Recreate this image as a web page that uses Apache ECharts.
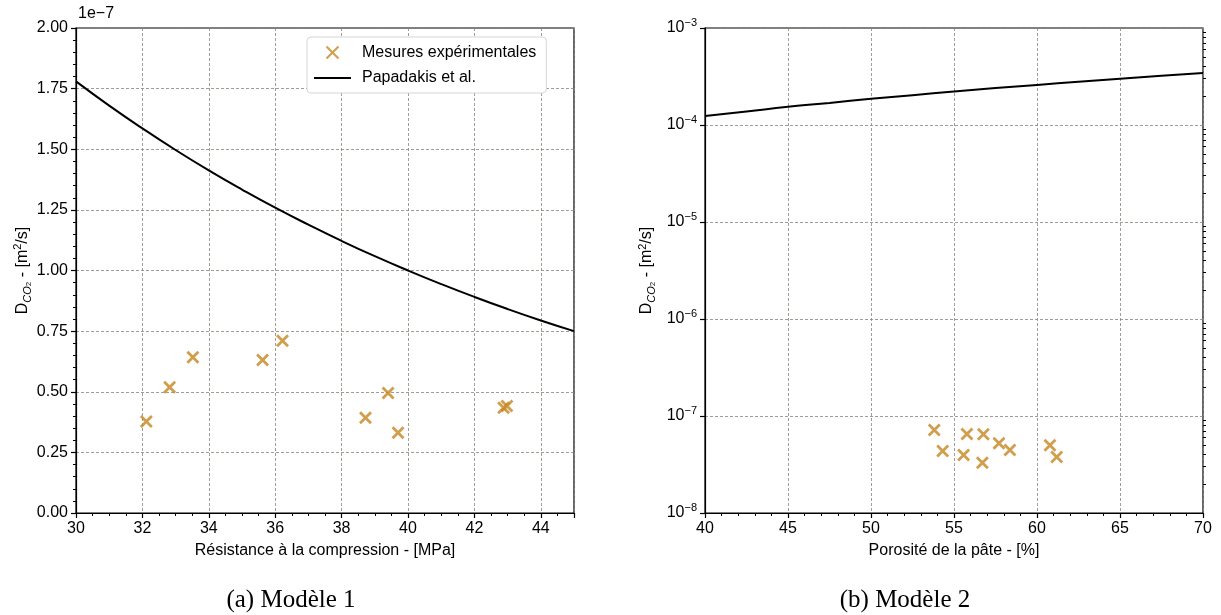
<!DOCTYPE html>
<html><head><meta charset="utf-8">
<script src="https://cdn.jsdelivr.net/npm/echarts@6/dist/echarts.min.js"></script>
<style>html,body{margin:0;padding:0;background:#fff}#c{width:1221px;height:615px}</style>
</head><body><div id="c"></div>
<script>
// ---- Data ----
// Panel (a): compressive strength [MPa] vs D_CO2 (units of 1e-7 m2/s)
const measA_x = [32.12, 32.82, 33.52, 35.62, 36.22, 38.72, 39.40, 39.70, 42.88, 42.98];
const measA_y = [0.377, 0.519, 0.642, 0.631, 0.710, 0.393, 0.495, 0.331, 0.434, 0.441];
const papA_x = [30, 31, 32, 33, 34, 35, 36, 37, 38, 39, 40, 41, 42, 43, 44, 45];
const papA_y = [1.78, 1.68, 1.586, 1.497, 1.413, 1.334, 1.259, 1.189, 1.122, 1.059, 1.0, 0.944, 0.891, 0.841, 0.794, 0.75];
// Panel (b): paste porosity [%] vs D_CO2 [m2/s]
const measB_x = [53.81, 54.32, 55.78, 55.58, 56.77, 56.71, 57.71, 58.37, 60.78, 61.19];
const measB_y = [7.17e-8, 4.35e-8, 6.52e-8, 3.96e-8, 6.48e-8, 3.30e-8, 5.23e-8, 4.46e-8, 4.99e-8, 3.78e-8];
const papB_x = [40, 42.5, 45, 47.5, 50, 52.5, 55, 57.5, 60, 62.5, 65, 67.5, 70];
const papB_y = [1.24e-4, 1.38e-4, 1.54e-4, 1.69e-4, 1.86e-4, 2.03e-4, 2.21e-4, 2.40e-4, 2.59e-4, 2.79e-4, 3.00e-4, 3.21e-4, 3.43e-4];
const logMinorTicks = [];
[-8, -7, -6, -5, -4].forEach(e => { for (let m = 2; m <= 9; m++) logMinorTicks.push(m * Math.pow(10, e)); });
const seriesNames = ['Mesures expérimentales', 'Papadakis et al.'];
const captions = ['(a) Modèle 1', '(b) Modèle 2'];
const xNames = ['Résistance à la compression - [MPa]', 'Porosité de la pâte - [%]'];

const MARK = '#c4861f';
const XPATH = 'path://M0,0L10,10M10,0L0,10';
const FONT = 'Liberation Sans, Arial, sans-serif';
const gridLine = { show: true, lineStyle: { color: '#8a8478', width: 0.8, type: [3, 2] } };
const tickStyle = { show: true, inside: false, length: 5, lineStyle: { color: '#000', width: 1.2 } };
const minorStyle = (n) => ({ show: true, splitNumber: n, length: 3, lineStyle: { color: '#000', width: 1 } });
const lblStyle = { color: '#000', fontSize: 16, fontFamily: FONT, margin: 8 };
const yNameRich = {
  n: { fontSize: 16, fontFamily: FONT, color: '#000', lineHeight: 20 },
  s: { fontSize: 11, fontFamily: FONT, fontStyle: 'italic', color: '#000', verticalAlign: 'bottom', padding: [8, 0, 0, 0] },
  s2: { fontSize: 8, fontFamily: FONT, color: '#000', verticalAlign: 'bottom', padding: [10, 0, 0, 0] },
  p: { fontSize: 11, fontFamily: FONT, color: '#000', verticalAlign: 'top', padding: [0, 0, 8, 0] }
};
const yName = '{n|D}{s|CO}{s2|2}{n| - [m}{p|2}{n|/s]}';
const supNames = {'-3':'−3','-4':'−4','-5':'−5','-6':'−6','-7':'−7','-8':'−8'};
const axLine = { show: true, lineStyle: { color: '#000', width: 1.2 } };

const chart = echarts.init(document.getElementById('c'), null, { renderer: 'canvas' });
chart.setOption({
  backgroundColor: '#fff',
  animation: false,
  grid: [
    { left: 76, top: 28, width: 498, height: 485, show: true, borderColor: '#000', borderWidth: 1.2, backgroundColor: 'transparent' },
    { left: 705, top: 28, width: 498, height: 485, show: true, borderColor: '#000', borderWidth: 1.2, backgroundColor: 'transparent' }
  ],
  legend: {
    left: 307, top: 37, orient: 'vertical',
    data: [
      { name: seriesNames[0] },
      { name: seriesNames[1], itemStyle: { color: 'rgba(0,0,0,0)', borderWidth: 0, opacity: 0 } }
    ],
    backgroundColor: '#fff', borderColor: '#d6d6d6', borderWidth: 1, borderRadius: 4,
    padding: [7, 10, 7, 6], itemGap: 9, itemWidth: 37, itemHeight: 12,
    textStyle: { fontSize: 16, fontFamily: FONT, color: '#000', padding: [0, 0, 0, 6] },
    selectedMode: false
  },
  xAxis: [
    { type: 'value', gridIndex: 0, min: 30, max: 45, interval: 2,
      name: xNames[0], nameLocation: 'middle', nameGap: 30, nameTextStyle: { fontSize: 16, fontFamily: FONT, color: '#000' },
      axisLine: axLine, axisTick: tickStyle, minorTick: minorStyle(4),
      axisLabel: Object.assign({ showMaxLabel: false }, lblStyle), splitLine: gridLine },
    { type: 'value', gridIndex: 1, min: 40, max: 70, interval: 5,
      name: xNames[1], nameLocation: 'middle', nameGap: 30, nameTextStyle: { fontSize: 16, fontFamily: FONT, color: '#000' },
      axisLine: axLine, axisTick: tickStyle, minorTick: minorStyle(5),
      axisLabel: lblStyle, splitLine: gridLine }
  ],
  yAxis: [
    { type: 'value', gridIndex: 0, min: 0, max: 2, interval: 0.25,
      name: yName, nameLocation: 'middle', nameGap: 41, nameRotate: 90, nameTextStyle: { rich: yNameRich },
      axisLine: axLine, axisTick: tickStyle, minorTick: minorStyle(5),
      axisLabel: Object.assign({ formatter: v => v.toFixed(2) }, lblStyle), splitLine: gridLine },
    { type: 'log', gridIndex: 1, min: 1e-8, max: 1e-3, logBase: 10,
      name: yName, nameLocation: 'middle', nameGap: 48, nameRotate: 90, nameTextStyle: { rich: yNameRich },
      axisLine: axLine, axisTick: tickStyle,
      axisLabel: Object.assign({
        formatter: v => { const e = Math.round(Math.log10(v)); return '{b|10}{e|' + (supNames[String(e)] || e) + '}'; },
        rich: {
          b: { fontSize: 16, fontFamily: FONT, color: '#000', lineHeight: 22 },
          e: { fontSize: 11, fontFamily: FONT, color: '#000', verticalAlign: 'top', padding: [0, 0, 10, 0] }
        }
      }, lblStyle), splitLine: gridLine },
    { type: 'log', gridIndex: 1, min: 1e-8, max: 1e-3, logBase: 10,
      axisLine: { show: false }, axisLabel: { show: false }, splitLine: { show: false },
      axisTick: { show: true, length: 3, customValues: logMinorTicks, lineStyle: { color: '#000', width: 1 } } }
  ],
  series: [
    { name: seriesNames[0], type: 'scatter', xAxisIndex: 0, yAxisIndex: 0,
      data: measA_x.map((x, i) => [x, measA_y[i]]), symbol: XPATH, symbolSize: 11,
      itemStyle: { color: 'none', borderColor: MARK, borderWidth: 2.8 }, z: 5 },
    { name: seriesNames[1], type: 'line', xAxisIndex: 0, yAxisIndex: 0, smooth: true,
      data: papA_x.map((x, i) => [x, papA_y[i]]), showSymbol: false, symbol: 'none',
      lineStyle: { color: '#000', width: 2 }, itemStyle: { color: '#000' } },
    { name: seriesNames[0], type: 'scatter', xAxisIndex: 1, yAxisIndex: 1,
      data: measB_x.map((x, i) => [x, measB_y[i]]), symbol: XPATH, symbolSize: 11,
      itemStyle: { color: 'none', borderColor: MARK, borderWidth: 2.8 }, z: 5 },
    { name: seriesNames[1], type: 'line', xAxisIndex: 1, yAxisIndex: 1, smooth: true,
      data: papB_x.map((x, i) => [x, papB_y[i]]), showSymbol: false, symbol: 'none',
      lineStyle: { color: '#000', width: 2 }, itemStyle: { color: '#000' } }
  ],
  graphic: [
    { type: 'text', x: 78, y: 14, style: { text: '1e−7', font: '16px ' + FONT, fill: '#000', textVerticalAlign: 'middle' } },
    { type: 'text', x: 291, y: 600, style: { text: captions[0], font: '25px "Liberation Serif", "DejaVu Serif", serif', fill: '#000', textAlign: 'center', textVerticalAlign: 'middle' } },
    { type: 'text', x: 905, y: 600, style: { text: captions[1], font: '25px "Liberation Serif", "DejaVu Serif", serif', fill: '#000', textAlign: 'center', textVerticalAlign: 'middle' } }
  ]
});
</script></body></html>
